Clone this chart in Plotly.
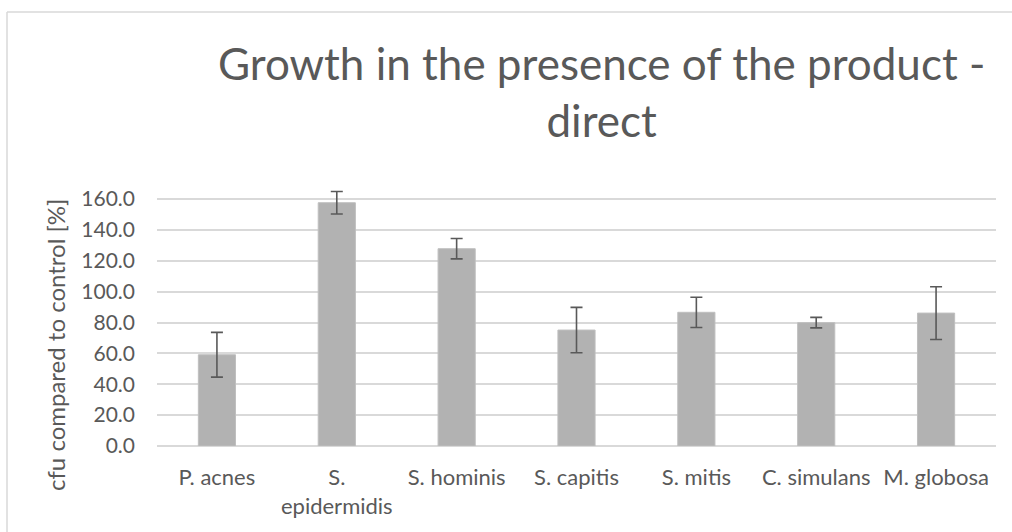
import plotly.graph_objects as go

categories = ["P. acnes", "S.<br>epidermidis", "S. hominis", "S. capitis", "S. mitis", "C. simulans", "M. globosa"]
values = [59.1, 157.6, 127.8, 75.1, 86.6, 79.9, 86.1]
errors = [14.5, 7.3, 6.6, 14.7, 9.8, 3.4, 17.1]
y_ticks = [0, 20, 40, 60, 80, 100, 120, 140, 160]
y_tick_labels = [f"{v:.1f}" for v in y_ticks]

W, H = 1012, 532
L, R, T, B = 157, 16, 187, 86
pw, ph = W - L - R, H - T - B
ymax = ph / (247 / 160)

FONT = "Lato"
TXT = "#595959"
GRID = "#d9d9d9"

fig = go.Figure()
fig.add_trace(go.Bar(
    x=categories, y=values,
    marker=dict(color="#b2b2b2", line=dict(color="#bfbfbf", width=1)),
    error_y=dict(type="data", array=errors, visible=True, color="#595959", thickness=1.6, width=6),
    width=0.31,
))

def px_x(p):
    return (p - L) / pw

def px_y(p):
    return (H - B - p) / ph

fig.update_layout(
    width=W, height=H,
    margin=dict(l=L, r=R, t=T, b=B, autoexpand=False),
    paper_bgcolor="white", plot_bgcolor="white",
    showlegend=False,
    font=dict(family=FONT, color=TXT, size=21),
    xaxis=dict(showgrid=False, showline=False, zeroline=False, ticks="",
               tickfont=dict(size=22, color=TXT), ticklabelstandoff=16),
    yaxis=dict(range=[0, ymax], tickvals=y_ticks, ticktext=y_tick_labels,
               showgrid=True, gridcolor=GRID, gridwidth=1.5,
               zeroline=True, zerolinecolor=GRID, zerolinewidth=1.5,
               showline=False, ticks="", tickfont=dict(size=21, color=TXT),
               ticklabelstandoff=21),
    shapes=[
        dict(type="line", xref="paper", yref="paper", x0=px_x(7), x1=px_x(1012), y0=px_y(12), y1=px_y(12),
             line=dict(color=GRID, width=1.5)),
        dict(type="line", xref="paper", yref="paper", x0=px_x(7), x1=px_x(7), y0=px_y(12), y1=px_y(532),
             line=dict(color=GRID, width=1.5)),
    ],
    annotations=[
        dict(text="Growth in the presence of the product -<br>direct", xref="paper", yref="paper",
             x=px_x(601), y=px_y(35), xanchor="center", yanchor="top", showarrow=False,
             font=dict(family=FONT, size=44, color=TXT)),
        dict(text="cfu compared to control [%]", xref="paper", yref="paper",
             x=px_x(55), y=px_y(345), xanchor="center", yanchor="middle", textangle=-90, showarrow=False,
             font=dict(family=FONT, size=24, color=TXT)),
    ],
)

fig.write_html("out.html", config={"displayModeBar": False},
               post_script="document.body.style.margin='0px';")
